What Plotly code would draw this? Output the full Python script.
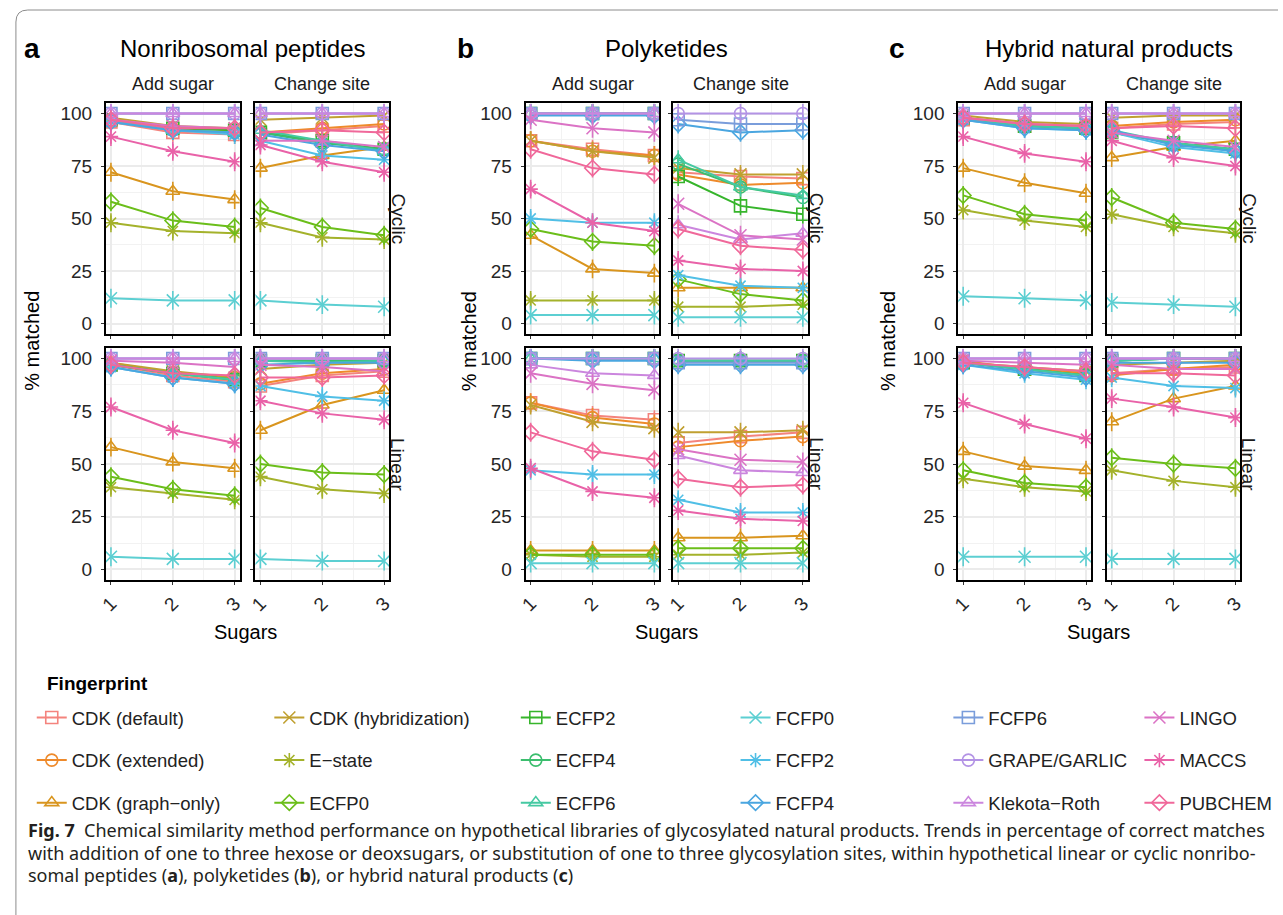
import plotly.graph_objects as go

# ---------------- data ----------------
fingerprints = ["CDK (default)", "CDK (extended)", "CDK (graph\u2212only)", "CDK (hybridization)",
                "E\u2212state", "ECFP0", "ECFP2", "ECFP4", "ECFP6", "FCFP0", "FCFP2", "FCFP4",
                "FCFP6", "GRAPE/GARLIC", "Klekota\u2212Roth", "LINGO", "MACCS", "PUBCHEM"]
sugars = [1, 2, 3]
y_ticks = [0, 25, 50, 75, 100]
groups = ["Nonribosomal peptides", "Polyketides", "Hybrid natural products"]
group_letters = ["a", "b", "c"]
columns = ["Add sugar", "Change site"]
rows = ["Cyclic", "Linear"]

# values in fingerprint order, each [1 sugar, 2 sugars, 3 sugars]
nrp_cyclic_add = [[96, 91, 90], [97, 93, 92], [72, 63, 59], [98, 94, 93], [48, 44, 43], [58, 49, 46],
                  [97, 93, 92], [97, 92, 91], [97, 92, 91], [12, 11, 11], [96, 92, 90], [96, 92, 91],
                  [100, 100, 100], [100, 100, 100], [100, 100, 100], [97, 94, 93], [89, 82, 77], [97, 93, 93]]
nrp_cyclic_change = [[90, 92, 94], [91, 93, 95], [74, 80, 84], [97, 98, 99], [48, 41, 40], [55, 46, 42],
                     [91, 87, 83], [91, 86, 83], [92, 87, 82], [11, 9, 8], [87, 80, 78], [90, 85, 82],
                     [100, 100, 100], [100, 100, 100], [100, 100, 100], [87, 87, 84], [85, 77, 72], [91, 92, 91]]
nrp_linear_add = [[97, 92, 89], [98, 93, 91], [58, 51, 48], [98, 94, 91], [39, 36, 33], [44, 38, 35],
                  [97, 93, 90], [97, 93, 90], [97, 93, 90], [6, 5, 5], [96, 91, 88], [96, 91, 88],
                  [100, 100, 100], [100, 100, 100], [100, 100, 100], [99, 98, 96], [77, 66, 60], [97, 93, 92]]
nrp_linear_change = [[87, 92, 94], [88, 93, 95], [66, 78, 85], [95, 97, 98], [44, 38, 36], [50, 46, 45],
                     [99, 99, 99], [99, 99, 99], [99, 98, 99], [5, 4, 4], [87, 82, 80], [97, 98, 98],
                     [100, 100, 100], [100, 100, 100], [100, 100, 100], [97, 96, 94], [80, 74, 71], [91, 91, 92]]
pk_cyclic_add = [[87, 83, 80], [87, 82, 80], [42, 26, 24], [87, 82, 79], [11, 11, 11], [45, 39, 37],
                 [100, 100, 100], [100, 100, 100], [100, 100, 100], [4, 4, 4], [50, 48, 48], [99, 99, 99],
                 [100, 100, 100], [100, 100, 100], [100, 100, 100], [97, 93, 91], [64, 48, 44], [83, 74, 71]]
pk_cyclic_change = [[72, 70, 69], [71, 66, 67], [17, 17, 17], [74, 71, 71], [8, 8, 9], [21, 14, 11],
                    [70, 56, 52], [76, 65, 60], [78, 65, 61], [3, 3, 3], [23, 18, 17], [95, 91, 92],
                    [97, 95, 95], [100, 100, 100], [47, 40, 43], [57, 42, 40], [30, 26, 25], [45, 37, 35]]
pk_linear_add = [[79, 73, 71], [79, 72, 69], [9, 9, 9], [78, 70, 67], [7, 6, 6], [7, 7, 7],
                 [100, 100, 100], [100, 100, 100], [100, 100, 100], [3, 3, 3], [47, 45, 45], [100, 99, 99],
                 [100, 100, 100], [100, 100, 100], [97, 93, 92], [93, 88, 85], [48, 37, 34], [65, 56, 52]]
pk_linear_change = [[60, 63, 65], [58, 61, 63], [15, 15, 16], [65, 65, 66], [7, 7, 8], [10, 10, 10],
                    [99, 99, 99], [99, 99, 99], [99, 99, 99], [3, 3, 3], [33, 27, 27], [97, 97, 97],
                    [98, 98, 98], [100, 100, 100], [54, 47, 46], [57, 52, 51], [28, 24, 23], [43, 39, 40]]
hyb_cyclic_add = [[97, 94, 93], [98, 95, 94], [74, 67, 62], [99, 96, 95], [54, 49, 46], [61, 52, 49],
                  [98, 94, 93], [98, 94, 93], [98, 94, 93], [13, 12, 11], [97, 93, 92], [97, 93, 92],
                  [100, 100, 100], [100, 100, 100], [100, 100, 100], [98, 95, 94], [89, 81, 77], [98, 95, 94]]
hyb_cyclic_change = [[93, 95, 96], [94, 96, 97], [79, 84, 87], [98, 99, 99], [52, 46, 43], [60, 48, 45],
                     [91, 86, 83], [91, 86, 82], [92, 86, 83], [10, 9, 8], [91, 84, 81], [92, 85, 82],
                     [100, 100, 100], [100, 100, 100], [100, 100, 100], [91, 87, 84], [87, 79, 75], [93, 94, 93]]
hyb_linear_add = [[98, 95, 93], [99, 95, 93], [56, 49, 47], [98, 96, 94], [43, 39, 37], [47, 41, 39],
                  [98, 95, 92], [98, 95, 92], [98, 95, 92], [6, 6, 6], [97, 93, 90], [97, 94, 91],
                  [100, 100, 100], [100, 100, 100], [100, 100, 100], [99, 98, 97], [79, 69, 62], [98, 96, 94]]
hyb_linear_change = [[93, 95, 96], [92, 95, 97], [70, 81, 87], [97, 98, 99], [47, 42, 39], [53, 50, 48],
                     [99, 100, 100], [99, 100, 100], [99, 100, 100], [5, 5, 5], [91, 87, 86], [98, 98, 98],
                     [100, 100, 100], [100, 100, 100], [100, 100, 100], [97, 95, 95], [81, 77, 72], [93, 93, 92]]

caption_lines = [
    "<b>Fig. 7</b>  Chemical similarity method performance on hypothetical libraries of glycosylated natural products. Trends in percentage of correct matches",
    "with addition of one to three hexose or deoxsugars, or substitution of one to three glycosylation sites, within hypothetical linear or cyclic nonribo-",
    "somal peptides (<b>a</b>), polyketides (<b>b</b>), or hybrid natural products (<b>c</b>)",
]

# ---------------- style ----------------
colors = ["#F4837D", "#EE8A2B", "#D9951E", "#C0A030", "#A4B22B", "#6BBE1A", "#36B52B", "#3BBE6E",
          "#45C9A2", "#5CCFD2", "#50BFE6", "#4AA6E0", "#7A9DDB", "#B393E5", "#CB86DE", "#DB73C5",
          "#E962A8", "#F0689A"]
symbol_cycle = ["square-open", "circle-open", "triangle-up-open", "x-thin-open", "asterisk-open", "diamond-open"]
ERR = 4.5
W, H = 1283, 915
FONT = "Liberation Sans, Arial, sans-serif"

panel_data = {
    (0, 0, 0): nrp_cyclic_add, (0, 0, 1): nrp_cyclic_change,
    (0, 1, 0): nrp_linear_add, (0, 1, 1): nrp_linear_change,
    (1, 0, 0): pk_cyclic_add, (1, 0, 1): pk_cyclic_change,
    (1, 1, 0): pk_linear_add, (1, 1, 1): pk_linear_change,
    (2, 0, 0): hyb_cyclic_add, (2, 0, 1): hyb_cyclic_change,
    (2, 1, 0): hyb_linear_add, (2, 1, 1): hyb_linear_change,
}

col_px = {(0, 0): (99, 234), (0, 1): (250, 385), (1, 0): (523, 658), (1, 1): (672, 808),
          (2, 0): (960, 1094), (2, 1): (1110, 1245)}
row_px = {0: (103, 334), 1: (348, 580)}


def fx(px):
    return px / W


def fy(py):
    return 1 - py / H


fig = go.Figure()
layout_axes = {}
k = 0
for g in range(3):
    for r in range(2):
        for c in range(2):
            k += 1
            xa = "x" if k == 1 else f"x{k}"
            ya = "y" if k == 1 else f"y{k}"
            x0, x1 = col_px[(g, c)]
            y0, y1 = row_px[r]
            layout_axes["xaxis" if k == 1 else f"xaxis{k}"] = dict(
                domain=[fx(x0), fx(x1)], anchor=ya, range=[0.92, 3.08],
                tickvals=sugars, ticktext=[str(s) for s in sugars],
                showticklabels=(r == 1), tickangle=-45,
                tickfont=dict(size=19, color="#262626", family=FONT),
                showgrid=True, gridcolor="#EBEBEB", gridwidth=1.6,
                minor=dict(tick0=0.5, dtick=0.5, showgrid=True, gridcolor="#F2F2F2", gridwidth=0.8),
                showline=True, linecolor="black", linewidth=2, mirror=True,
                zeroline=False, ticks="outside", ticklen=3, tickcolor="#333", fixedrange=True,
            )
            layout_axes["yaxis" if k == 1 else f"yaxis{k}"] = dict(
                domain=[fy(y1), fy(y0)], anchor=xa, range=[-5, 105],
                tickvals=y_ticks, showticklabels=(c == 0),
                tickfont=dict(size=19, color="#262626", family=FONT),
                showgrid=True, gridcolor="#EBEBEB", gridwidth=1.6,
                minor=dict(tick0=12.5, dtick=25, showgrid=True, gridcolor="#F2F2F2", gridwidth=0.8),
                showline=True, linecolor="black", linewidth=2, mirror=True,
                zeroline=False, ticks="outside", ticklen=3, tickcolor="#333", fixedrange=True,
                ticklabelstandoff=5,
            )
            vals = panel_data[(g, r, c)]
            for i, fp in enumerate(fingerprints):
                fig.add_trace(go.Scatter(
                    x=sugars, y=vals[i], xaxis=xa, yaxis=ya, name=fp,
                    mode="lines+markers",
                    line=dict(color=colors[i], width=2),
                    marker=dict(symbol=symbol_cycle[i % 6], size=12, color=colors[i],
                                line=dict(color=colors[i], width=1.6)),
                    error_y=dict(type="constant", value=ERR, visible=True, width=0, thickness=1.6,
                                 color=colors[i]),
                    legend="legend" if i // 3 == 0 else f"legend{i // 3 + 1}",
                    legendgroup=fp,
                    showlegend=(k == 1),
                ))

# legends: six columns of three
legend_x = [24, 264, 513, 735, 950, 1143]
legends = {}
for j, lx in enumerate(legend_x):
    legends["legend" if j == 0 else f"legend{j + 1}"] = dict(
        x=fx(lx), y=fy(699), xanchor="left", yanchor="top",
        orientation="v", tracegroupgap=15.5, itemwidth=30,
        font=dict(size=18.5, color="#222", family=FONT), bgcolor="rgba(0,0,0,0)",
        itemclick=False, itemdoubleclick=False,
    )

ann = []
title_cx = [237, 665, 1112]
sugar_cx = [240, 665, 1102]
letter_x = [24, 462, 898]
ylab_x = [24, 466, 889]


def add_text(text, x, y, size, color="black", angle=0, xanchor="center", family=FONT):
    ann.append(dict(text=text, x=fx(x), y=fy(y), xref="paper", yref="paper", showarrow=False,
                    textangle=angle, font=dict(size=size, color=color, family=family),
                    xanchor=xanchor, yanchor="middle"))


for g in range(3):
    add_text(f"<b>{group_letters[g]}</b>", letter_x[g], 48, 28)
    add_text(groups[g], title_cx[g], 48, 24)
    for c in range(2):
        x0, x1 = col_px[(g, c)]
        add_text(columns[c], (x0 + x1) / 2, 84, 18, "#1a1a1a")
    for r in range(2):
        y0, y1 = row_px[r]
        add_text(rows[r], col_px[(g, 1)][1] + 9, (y0 + y1) / 2, 19, "#1a1a1a", angle=90)
    add_text("% matched", ylab_x[g], 341, 20, angle=-90)
    add_text("Sugars", sugar_cx[g], 632, 20)

add_text("<b>Fingerprint</b>", 37, 683, 19, xanchor="left")
for line, yy in zip(caption_lines, [830, 853, 875]):
    add_text(line, 18, yy, 18.0, "#231F20", xanchor="left", family="Noto Sans, Open Sans, sans-serif")

# outer rounded frame
frame_path = (f"M {fx(8)},{fy(915)} L {fx(8)},{fy(22)} Q {fx(8)},{fy(10)} {fx(20)},{fy(10)} "
              f"L {fx(1283)},{fy(10)}")
shapes = [dict(type="path", path=frame_path, xref="paper", yref="paper",
               line=dict(color="#8C8C8C", width=1))]

fig.update_layout(
    width=W, height=H, margin=dict(l=0, r=0, t=0, b=0),
    paper_bgcolor="white", plot_bgcolor="white",
    annotations=ann, shapes=shapes, **layout_axes, **legends,
)
fig.write_html("out.html")
